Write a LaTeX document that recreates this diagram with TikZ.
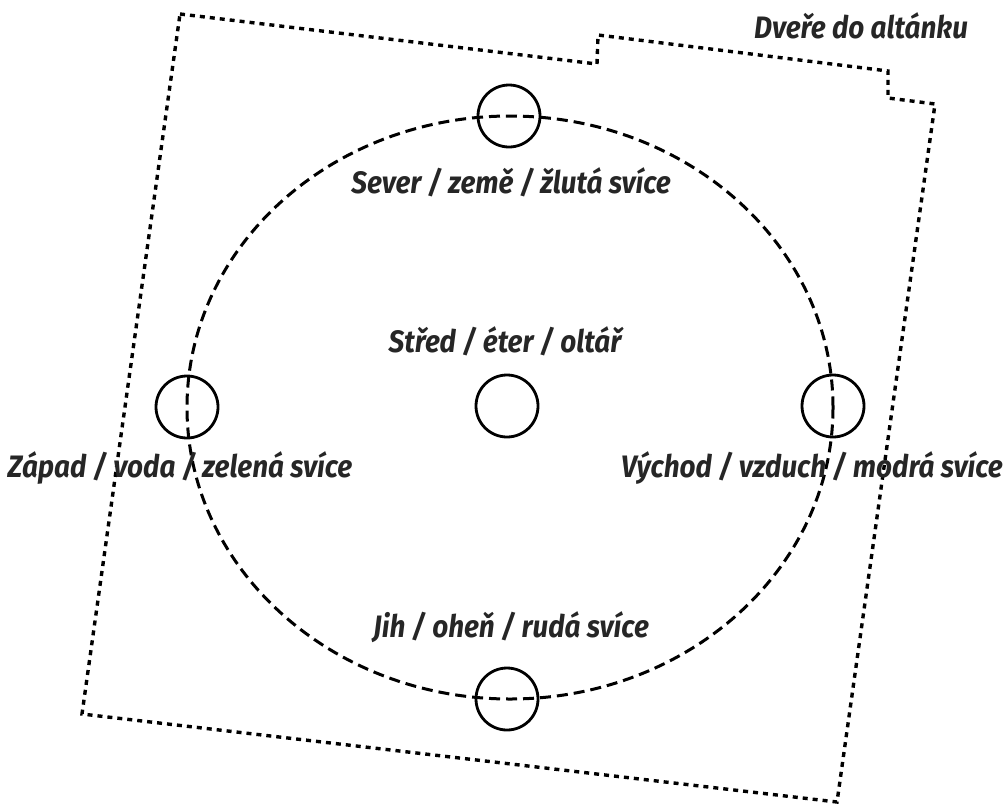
\documentclass[tikz,border=0pt]{standalone}
\usepackage{fontspec}
\setmainfont{Fira Sans}[FakeStretch=0.9]
\usepackage{tikz}
\usetikzlibrary{calc}

\begin{document}
\begin{tikzpicture}[x=1pt, y=-1pt,
        wall/.style={line width=3.4pt, dash pattern=on 5pt off 5pt},
        ring/.style={line width=3pt, dash pattern=on 11pt off 6pt},
        candle/.style={circle, draw, line width=2.8pt, minimum size=62pt, inner sep=0pt},
        caption/.style={anchor=base, text=black!85, font=\fontsize{31}{34}\selectfont\bfseries\itshape}]
        \useasboundingbox (0,0) rectangle (1008,806);

        % altanek s dverma
        \draw[wall] (180,14) -- (597,64) -- (598,35) -- (888,71) -- (888,98)
            -- (935,104) -- (837,802) -- (82,714) -- cycle;

        % kruh
        \draw[ring] (510,407.5) ellipse (323 and 291.5);

        % svice
        \node[candle] (sever) at (509,116) {};
        \node[candle] (stred) at (507,406) {};
        \node[candle] (zapad) at (187,407) {};
        \node[candle] (vychod) at (833,406) {};
        \node[candle] (jih) at (507,699) {};

        % popisky
        \node[caption] (dvere-t) at (861,38) {Dveře do altánku};
        \node[caption] (sever-t) at (511,193) {Sever / země / žlutá svíce};
        \node[caption] (stred-t) at (505,352) {Střed / éter / oltář};
        \node[caption] (zapad-t) at (180,477) {Západ / voda / zelená svíce};
        \node[caption] (vychod-t) at (812,477) {Východ / vzduch / modrá svíce};
        \node[caption] (jih-t) at (511,637) {Jih / oheň / rudá svíce};
\end{tikzpicture}
\end{document}
